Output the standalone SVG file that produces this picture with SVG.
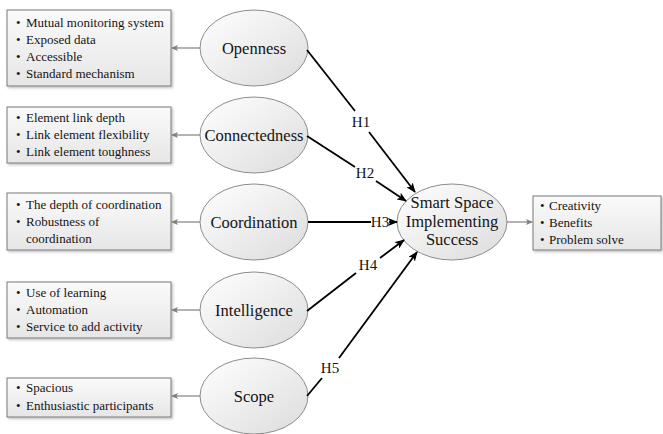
<svg xmlns="http://www.w3.org/2000/svg" width="663" height="434" viewBox="0 0 663 434" font-family="Liberation Serif, serif">
<defs>
<linearGradient id="gEll" x1="0" y1="0" x2="1" y2="1">
<stop offset="0" stop-color="#ffffff"/>
<stop offset="1" stop-color="#dcdcdc"/>
</linearGradient>
<linearGradient id="gBox" x1="0" y1="0" x2="0" y2="1">
<stop offset="0" stop-color="#fafafa"/>
<stop offset="1" stop-color="#e6e6e6"/>
</linearGradient>
<filter id="sh" x="-5%" y="-5%" width="115%" height="120%">
<feDropShadow dx="1.5" dy="1.5" stdDeviation="1" flood-color="#000" flood-opacity="0.25"/>
</filter>
<marker id="aB" markerWidth="10" markerHeight="8" refX="9" refY="4" orient="auto" markerUnits="userSpaceOnUse">
<path d="M0,0 L10,4 L0,8 L2.5,4 Z" fill="#000"/>
</marker>
<marker id="aG" markerWidth="7" markerHeight="6" refX="6" refY="3" orient="auto" markerUnits="userSpaceOnUse">
<path d="M0,0 L7,3 L0,6 L1.5,3 Z" fill="#808080"/>
</marker>
</defs>
<style>
.ell{fill:url(#gEll);stroke:#8c8c8c;stroke-width:1}
.box{fill:url(#gBox);stroke:#7a7a7a;stroke-width:1;filter:url(#sh)}
text{font-family:'Liberation Serif',serif;fill:#141414}
.bt{font-size:13px}
.et{font-size:16.5px;text-anchor:middle}
.ht{font-size:15px;text-anchor:middle}
.gl{stroke:#808080;stroke-width:1.2;fill:none;marker-end:url(#aG)}
.bl{stroke:#000;stroke-width:1.8;fill:none;marker-end:url(#aB)}
.bl0{stroke:#000;stroke-width:1.8;fill:none}
</style>

<g id="box-openness">
<rect class="box" x="7" y="10" width="164" height="76"/>
<text class="bt" x="16" y="27">•</text><text class="bt" x="26" y="27">Mutual monitoring system</text>
<text class="bt" x="16" y="44">•</text><text class="bt" x="26" y="44">Exposed data</text>
<text class="bt" x="16" y="61">•</text><text class="bt" x="26" y="61">Accessible</text>
<text class="bt" x="16" y="78">•</text><text class="bt" x="26" y="78">Standard mechanism</text>
</g>
<g id="box-connectedness">
<rect class="box" x="7" y="107" width="164" height="56"/>
<text class="bt" x="16" y="122">•</text><text class="bt" x="26" y="122">Element link depth</text>
<text class="bt" x="16" y="139">•</text><text class="bt" x="26" y="139">Link element flexibility</text>
<text class="bt" x="16" y="156">•</text><text class="bt" x="26" y="156">Link element toughness</text>
</g>
<g id="box-coordination">
<rect class="box" x="7" y="193" width="164" height="57"/>
<text class="bt" x="16" y="209">•</text><text class="bt" x="26" y="209">The depth of coordination</text>
<text class="bt" x="16" y="226">•</text><text class="bt" x="26" y="226">Robustness of</text>
<text class="bt" x="26" y="243">coordination</text>
</g>
<g id="box-intelligence">
<rect class="box" x="7" y="282" width="164" height="56"/>
<text class="bt" x="16" y="297">•</text><text class="bt" x="26" y="297">Use of learning</text>
<text class="bt" x="16" y="314">•</text><text class="bt" x="26" y="314">Automation</text>
<text class="bt" x="16" y="331">•</text><text class="bt" x="26" y="331">Service to add activity</text>
</g>
<g id="box-scope">
<rect class="box" x="7" y="378" width="164" height="39"/>
<text class="bt" x="16" y="392">•</text><text class="bt" x="26" y="392">Spacious</text>
<text class="bt" x="16" y="410">•</text><text class="bt" x="26" y="410">Enthusiastic participants</text>
</g>
<g id="box-outcome">
<rect class="box" x="533" y="196" width="128" height="54"/>
<text class="bt" x="540" y="210">•</text><text class="bt" x="549" y="210">Creativity</text>
<text class="bt" x="540" y="227">•</text><text class="bt" x="549" y="227">Benefits</text>
<text class="bt" x="540" y="244">•</text><text class="bt" x="549" y="244">Problem solve</text>
</g>

<g id="node-openness">
<ellipse class="ell" cx="254" cy="48" rx="54" ry="38"/>
<text class="et" x="254" y="54">Openness</text>
</g>
<g id="node-connectedness">
<ellipse class="ell" cx="254" cy="135" rx="54" ry="38"/>
<text class="et" x="254" y="141">Connectedness</text>
</g>
<g id="node-coordination">
<ellipse class="ell" cx="254" cy="222" rx="54" ry="38"/>
<text class="et" x="254" y="228">Coordination</text>
</g>
<g id="node-intelligence">
<ellipse class="ell" cx="254" cy="310" rx="54" ry="38"/>
<text class="et" x="254" y="316">Intelligence</text>
</g>
<g id="node-scope">
<ellipse class="ell" cx="254" cy="396" rx="54" ry="38"/>
<text class="et" x="254" y="402">Scope</text>
</g>
<g id="node-success">
<ellipse class="ell" cx="452" cy="222" rx="55" ry="38"/>
<text class="et" x="452" y="208">Smart Space</text>
<text class="et" x="452" y="227">Implementing</text>
<text class="et" x="452" y="245">Success</text>
</g>

<g id="connectors">
<path class="gl" d="M200,48 L172,48"/>
<path class="gl" d="M200,135 L172,135"/>
<path class="gl" d="M200,222 L172,222"/>
<path class="gl" d="M200,310 L172,310"/>
<path class="gl" d="M200,396 L172,396"/>
<path class="gl" d="M507,222 L532,222"/>

<path class="bl0" d="M307,50 L355,111"/>
<path class="bl" d="M369,132 L415,192"/>
<path class="bl0" d="M307,136 L355,167"/>
<path class="bl" d="M376,181 L406,201"/>
<path class="bl0" d="M308,222 L371,222"/>
<path class="bl" d="M389,222 L397,222"/>
<path class="bl0" d="M307,311 L356,273"/>
<path class="bl" d="M380,258 L404,240"/>
<path class="bl0" d="M307,396 L322,378"/>
<path class="bl" d="M339,358 L417,252"/>

<text class="ht" x="361" y="127">H1</text>
<text class="ht" x="365" y="178">H2</text>
<text class="ht" x="380" y="227">H3</text>
<text class="ht" x="368" y="270">H4</text>
<text class="ht" x="330" y="373">H5</text>
</g>
</svg>
